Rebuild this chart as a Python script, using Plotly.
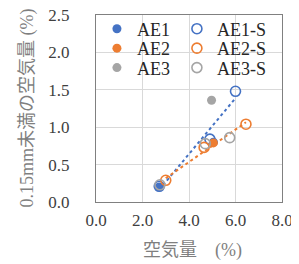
import numpy as np
import plotly.graph_objects as go

# --- data ---
ae1_x = [2.72, 5.05]
ae1_y = [0.20, 0.80]
ae1s_x = [2.72, 4.90, 6.00]
ae1s_y = [0.21, 0.84, 1.48]
ae2_x = [5.05]
ae2_y = [0.79]
ae2s_x = [3.00, 4.65, 6.45]
ae2s_y = [0.29, 0.73, 1.04]
ae3_x = [4.97]
ae3_y = [1.36]
ae3s_x = [2.75, 4.70, 5.75]
ae3s_y = [0.23, 0.78, 0.86]

x_ticks = [0, 2, 4, 6, 8]
y_ticks = [0, 0.5, 1.0, 1.5, 2.0, 2.5]

BLUE = "#4472C4"
ORANGE = "#ED7D31"
GREY = "#A5A5A5"
SERIF = "'Liberation Serif', 'Times New Roman', serif"
MIX = "'Liberation Serif', 'Times New Roman', 'Noto Sans CJK JP', serif"

fig = go.Figure()

def trend(xs, ys, color):
    k, b = np.polyfit(xs, ys, 1)
    xx = np.array([min(xs), max(xs)])
    fig.add_trace(go.Scatter(x=xx, y=k * xx + b, mode="lines",
                             line=dict(color=color, width=2, dash="dot"),
                             showlegend=False, hoverinfo="skip"))

trend(ae1s_x, ae1s_y, BLUE)
trend(ae2s_x, ae2s_y, ORANGE)

def filled(name, xs, ys, color, leg):
    fig.add_trace(go.Scatter(x=xs, y=ys, mode="markers", name=name, legend=leg,
                             marker=dict(color=color, size=9, symbol="circle")))

def hollow(name, xs, ys, color, leg):
    fig.add_trace(go.Scatter(x=xs, y=ys, mode="markers", name=name, legend=leg,
                             marker=dict(color="rgba(0,0,0,0)", size=10, symbol="circle",
                                         line=dict(color=color, width=1.6))))

filled("AE1", ae1_x, ae1_y, BLUE, "legend")
hollow("AE1-S", ae1s_x, ae1s_y, BLUE, "legend2")
filled("AE2", ae2_x, ae2_y, ORANGE, "legend3")
hollow("AE2-S", ae2s_x, ae2s_y, ORANGE, "legend4")
filled("AE3", ae3_x, ae3_y, GREY, "legend5")
hollow("AE3-S", ae3s_x, ae3s_y, GREY, "legend6")

fig.add_annotation(text="0.15mm未満の空気量 (%)", textangle=-90,
                   xref="paper", yref="paper", x=0, y=0.5,
                   xanchor="center", yanchor="middle", xshift=-69, showarrow=False,
                   font=dict(family=MIX, size=18, color="#7F7F7F"))
fig.add_annotation(text="空気量　(%)",
                   xref="paper", yref="paper", x=0.5, y=-0.262,
                   xanchor="center", yanchor="middle", xshift=3, showarrow=False,
                   font=dict(family=MIX, size=18, color="#7F7F7F"))

def leg(xl, yc):
    return dict(orientation="v", x=xl, y=yc, xanchor="left", yanchor="middle",
                bgcolor="rgba(0,0,0,0)", font=dict(family=SERIF, size=18, color="#262626"),
                itemwidth=30)

# the page body adds an 8px offset, so the figure is drawn 8px smaller
fig.update_layout(
    width=291, height=256,
    margin=dict(l=88, r=17, t=7, b=62, autoexpand=False),
    paper_bgcolor="white", plot_bgcolor="white",
    font=dict(family=SERIF, size=17, color="#404040"),
    showlegend=True,
    legend=leg(0.005, 0.925), legend2=leg(0.435, 0.925),
    legend3=leg(0.005, 0.821), legend4=leg(0.435, 0.821),
    legend5=leg(0.005, 0.717), legend6=leg(0.435, 0.717),
    xaxis=dict(range=[0, 8], tickvals=x_ticks,
               ticktext=[f"{v:.1f}" for v in x_ticks],
               showgrid=True, gridcolor="#D9D9D9", gridwidth=1,
               showline=True, linecolor="#808080", linewidth=1, mirror=True,
               zeroline=False, ticks="", ticklabelstandoff=3,
               ticklabeloverflow="allow",
               tickfont=dict(family=SERIF, size=17, color="#404040")),
    yaxis=dict(range=[0, 2.5], tickvals=y_ticks,
               ticktext=[f"{v:.1f}" for v in y_ticks],
               showgrid=True, gridcolor="#D9D9D9", gridwidth=1,
               showline=True, linecolor="#808080", linewidth=1, mirror=True,
               zeroline=False, ticks="", ticklabelstandoff=22,
               ticklabeloverflow="allow",
               tickfont=dict(family=SERIF, size=17, color="#404040")),
)

fig.write_html("out.html")
